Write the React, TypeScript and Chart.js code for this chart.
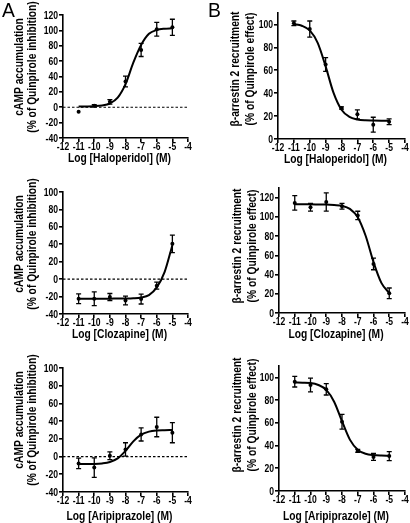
import React, { useEffect, useRef } from "react";
import { Chart, registerables } from "chart.js";
Chart.register(...registerables);

// ---------- data ----------
const DOSE_X = [-11, -10, -9, -8, -7, -6, -5];
const CURVE_X = [-11, -10.5, -10, -9.5, -9, -8.5, -8, -7.5, -7, -6.5, -6, -5.5, -5];
const X_TICKS = [-12, -11, -10, -9, -8, -7, -6, -5, -4];
const CAMP_TICKS_120 = [-40, -20, 0, 20, 40, 60, 80, 100, 120];
const CAMP_TICKS_100 = [-40, -20, 0, 20, 40, 60, 80, 100];
const ARR_TICKS_100 = [0, 20, 40, 60, 80, 100];
const ARR_TICKS_120 = [0, 20, 40, 60, 80, 100, 120];

const HAL_CAMP_MEAN = [-6, 2, 7, 33.5, 74.5, 101.5, 104];
const HAL_CAMP_SEM = [0, 1.5, 3, 7, 8.5, 9, 10.5];
const HAL_CAMP_FIT = [1.0, 1.1, 1.4, 2.3, 4.9, 12.4, 30, 58, 81, 95.5, 100.5, 102.2, 102.7];

const HAL_ARR_MEAN = [101, 96, 65, 27, 21.5, 12.5, 15];
const HAL_ARR_SEM = [2, 7, 6, 1, 4, 6.5, 2.5];
const HAL_ARR_FIT = [100.3, 98.9, 94.8, 83.9, 63.4, 40.2, 25.5, 19.3, 17.1, 16.3, 16.1, 16.0, 16.0];

const CLZ_CAMP_MEAN = [-22.5, -22.5, -20.5, -24.5, -22.8, -7.5, 40.5];
const CLZ_CAMP_SEM = [5.5, 8, 4, 5, 5.7, 4, 10];
const CLZ_CAMP_FIT = [-22.5, -22.5, -22.5, -22.5, -22.4, -22.3, -22.2, -21.9, -21.0, -18.3, -9.5, 8, 39];

const CLZ_ARR_MEAN = [114.5, 110, 115.5, 111, 101.5, 51, 20.5];
const CLZ_ARR_SEM = [7.6, 4, 9.5, 3, 4.3, 6, 5.5];
const CLZ_ARR_FIT = [113, 113, 113, 112.9, 112.8, 112.3, 111.5, 108.3, 99.6, 80.3, 52.9, 31.3, 20.8];

const ARI_CAMP_MEAN = [-7.7, -12.4, 1, 8, 25, 33.4, 27];
const ARI_CAMP_SEM = [6, 11, 4.4, 7.6, 7.4, 11, 11.4];
const ARI_CAMP_FIT = [-8.5, -8.4, -8.3, -7.75, -6.2, -2.1, 6.4, 17.1, 24.7, 28.2, 29.5, 29.8, 30];

const ARI_ARR_MEAN = [96.2, 93.3, 89.5, 61, 35.4, 30, 30.7];
const ARI_ARR_SEM = [4.7, 6, 5, 6.5, 1.3, 3, 4];
const ARI_ARR_FIT = [95.4, 95.3, 95, 93.3, 89, 78.6, 61.4, 45.2, 36.3, 32.8, 31.6, 31.2, 31.1];

const CAMP_TITLE = ["cAMP accumulation", "(% of Quinpirole inhibition)"];
const ARR_TITLE = ["\u03b2-arrestin 2 recruitment", "(% of Quinpirole effect)"];

// ---------- layout ----------
const FONT = '"Liberation Sans", Arial, Helvetica, sans-serif';

type Spec = {
  canvas: { left: number; top: number; width: number; height: number };
  area: { L: number; R: number; T: number; B: number };
  yMin: number; yMax: number; yTicks: number[];
  mean: number[]; sem: number[]; fit: number[];
  zero: boolean;
  yTitle: string[]; yTitleX: number[]; yTitleY: number;
  xTitle: string; xTitleY: number;
  letter?: string; letterX?: number;
};

const PANELS: Spec[] = [
  {
    canvas: { left: 0, top: 0, width: 205, height: 172 }, area: { L: 63, R: 188, T: 15, B: 138 },
    yMin: -40, yMax: 120, yTicks: CAMP_TICKS_120, mean: HAL_CAMP_MEAN, sem: HAL_CAMP_SEM, fit: HAL_CAMP_FIT,
    zero: true, yTitle: CAMP_TITLE, yTitleX: [19.5, 33], yTitleY: 67,
    xTitle: "Log [Haloperidol] (M)", xTitleY: 159, letter: "A", letterX: 2,
  },
  {
    canvas: { left: 205, top: 0, width: 205, height: 172 }, area: { L: 278, R: 405, T: 13, B: 139 },
    yMin: 0, yMax: 110, yTicks: ARR_TICKS_100, mean: HAL_ARR_MEAN, sem: HAL_ARR_SEM, fit: HAL_ARR_FIT,
    zero: false, yTitle: ARR_TITLE, yTitleX: [236, 250.5], yTitleY: 69,
    xTitle: "Log [Haloperidol] (M)", xTitleY: 159.5, letter: "B", letterX: 208,
  },
  {
    canvas: { left: 0, top: 172, width: 205, height: 173 }, area: { L: 63, R: 188, T: 192, B: 314 },
    yMin: -40, yMax: 100, yTicks: CAMP_TICKS_100, mean: CLZ_CAMP_MEAN, sem: CLZ_CAMP_SEM, fit: CLZ_CAMP_FIT,
    zero: true, yTitle: CAMP_TITLE, yTitleX: [19.5, 33], yTitleY: 244,
    xTitle: "Log [Clozapine] (M)", xTitleY: 334.5,
  },
  {
    canvas: { left: 205, top: 172, width: 205, height: 173 }, area: { L: 279, R: 405, T: 188, B: 313 },
    yMin: 0, yMax: 130, yTicks: ARR_TICKS_120, mean: CLZ_ARR_MEAN, sem: CLZ_ARR_SEM, fit: CLZ_ARR_FIT,
    zero: false, yTitle: ARR_TITLE, yTitleX: [238, 252.5], yTitleY: 246,
    xTitle: "Log [Clozapine] (M)", xTitleY: 334.5,
  },
  {
    canvas: { left: 0, top: 345, width: 205, height: 178 }, area: { L: 63, R: 188, T: 368, B: 492 },
    yMin: -40, yMax: 100, yTicks: CAMP_TICKS_100, mean: ARI_CAMP_MEAN, sem: ARI_CAMP_SEM, fit: ARI_CAMP_FIT,
    zero: true, yTitle: CAMP_TITLE, yTitleX: [19.5, 33], yTitleY: 420,
    xTitle: "Log [Aripiprazole] (M)", xTitleY: 517,
  },
  {
    canvas: { left: 205, top: 345, width: 205, height: 178 }, area: { L: 279, R: 405, T: 366, B: 491 },
    yMin: 0, yMax: 110, yTicks: ARR_TICKS_100, mean: ARI_ARR_MEAN, sem: ARI_ARR_SEM, fit: ARI_ARR_FIT,
    zero: false, yTitle: ARR_TITLE, yTitleX: [238, 252.5], yTitleY: 415,
    xTitle: "Log [Aripiprazole] (M)", xTitleY: 517,
  },
];

const YW = 30;
const XH = 20;
const SQUEEZE = 0.82;
const TICK_SQUEEZE = 0.78;

function Panel({ spec }: { spec: Spec }) {
  const ref = useRef<HTMLCanvasElement>(null);
  const c = spec.canvas;
  useEffect(() => {
    const cv = ref.current!;
    const a = spec.area;
    const pad = {
      left: a.L - c.left - YW,
      right: c.left + c.width - a.R,
      top: a.T - c.top,
      bottom: c.top + c.height - a.B - XH,
    };
    const datasets: any[] = [
      {
        label: "mean",
        data: DOSE_X.map((x, i) => ({ x, y: spec.mean[i] })),
        showLine: false,
        pointStyle: "circle",
        pointRadius: 2,
        pointBackgroundColor: "#000",
        pointBorderColor: "#000",
        pointBorderWidth: 0,
      },
      {
        label: "fit",
        data: CURVE_X.map((x, i) => ({ x, y: spec.fit[i] })),
        showLine: true,
        borderColor: "#000",
        borderWidth: 2,
        pointRadius: 0,
        cubicInterpolationMode: "monotone",
        fill: false,
      },
    ];
    if (spec.zero) {
      datasets.push({
        label: "zero",
        data: [{ x: X_TICKS[0], y: 0 }, { x: X_TICKS[X_TICKS.length - 1], y: 0 }],
        showLine: true,
        borderColor: "#000",
        borderWidth: 1.2,
        borderDash: [2.5, 2],
        pointRadius: 0,
        fill: false,
      });
    }
    const errorBars = {
      id: "errorBars",
      afterDatasetsDraw(chart: any) {
        const { ctx, scales } = chart;
        const xs = scales.x, ys = scales.y;
        ctx.save();
        ctx.strokeStyle = "#000";
        ctx.lineWidth = 1.3;
        spec.mean.forEach((m, i) => {
          const e = spec.sem[i];
          if (!e) return;
          const px = xs.getPixelForValue(DOSE_X[i]);
          const y1 = ys.getPixelForValue(m + e);
          const y2 = ys.getPixelForValue(m - e);
          ctx.beginPath();
          ctx.moveTo(px, y1); ctx.lineTo(px, y2);
          ctx.moveTo(px - 2.5, y1); ctx.lineTo(px + 2.5, y1);
          ctx.moveTo(px - 2.5, y2); ctx.lineTo(px + 2.5, y2);
          ctx.stroke();
        });
        ctx.restore();
      },
    };
    const labels = {
      id: "labels",
      afterDraw(chart: any) {
        const { ctx, scales } = chart;
        const xs = scales.x, ys = scales.y;
        ctx.save();
        ctx.fillStyle = "#000";
        // tick labels
        ctx.font = `bold 11px ${FONT}`;
        ctx.textBaseline = "middle";
        ctx.textAlign = "center";
        xs.ticks.forEach((t: any) => {
          const px = xs.getPixelForValue(t.value);
          ctx.save();
          ctx.translate(px, chart.chartArea.bottom + 8.5);
          ctx.scale(TICK_SQUEEZE, 1);
          ctx.fillText(String(t.value), 0, 0);
          ctx.restore();
        });
        ctx.textAlign = "right";
        ys.ticks.forEach((t: any) => {
          const py = ys.getPixelForValue(t.value);
          ctx.save();
          ctx.translate(chart.chartArea.left - 5, py + 0.5);
          ctx.scale(TICK_SQUEEZE, 1);
          ctx.fillText(String(t.value), 0, 0);
          ctx.restore();
        });
        // axis titles
        ctx.textAlign = "center";
        ctx.font = `bold 12.5px ${FONT}`;
        spec.yTitle.forEach((t, i) => {
          ctx.save();
          ctx.translate(spec.yTitleX[i] - c.left, spec.yTitleY - c.top);
          ctx.rotate(-Math.PI / 2);
          ctx.scale(SQUEEZE, 1);
          ctx.fillText(t, 0, 0);
          ctx.restore();
        });
        ctx.save();
        ctx.translate((a.L + a.R) / 2 - 6 - c.left, spec.xTitleY - c.top);
        ctx.scale(SQUEEZE, 1);
        ctx.fillText(spec.xTitle, 0, 0);
        ctx.restore();
        if (spec.letter) {
          ctx.save();
          ctx.textAlign = "left";
          ctx.textBaseline = "alphabetic";
          ctx.font = `21px ${FONT}`;
          ctx.translate((spec.letterX || 0) - c.left, 17 - c.top);
          ctx.scale(0.92, 1);
          ctx.fillText(spec.letter, 0, 0);
          ctx.restore();
        }
        ctx.restore();
      },
    };
    const gridOpts = { display: true, drawOnChartArea: false, drawTicks: true, tickLength: 4, color: "#000", lineWidth: 1.6 };
    const chart = new Chart(cv, {
      type: "scatter",
      data: { datasets },
      options: {
        responsive: false,
        animation: false,
        devicePixelRatio: 1,
        layout: { padding: pad },
        plugins: { legend: { display: false }, tooltip: { enabled: false } },
        scales: {
          x: {
            type: "linear",
            min: X_TICKS[0],
            max: X_TICKS[X_TICKS.length - 1],
            afterBuildTicks: (s: any) => { s.ticks = X_TICKS.map((v) => ({ value: v })); },
            afterFit: (s: any) => { s.height = XH; },
            grid: gridOpts,
            border: { display: true, color: "#000", width: 1.6 },
            ticks: { display: false, autoSkip: false },
          },
          y: {
            type: "linear",
            min: spec.yMin,
            max: spec.yMax,
            afterBuildTicks: (s: any) => { s.ticks = spec.yTicks.map((v) => ({ value: v })); },
            afterFit: (s: any) => { s.width = YW; },
            grid: gridOpts,
            border: { display: true, color: "#000", width: 1.6 },
            ticks: { display: false, autoSkip: false },
          },
        },
      } as any,
      plugins: [errorBars, labels],
    });
    return () => chart.destroy();
  }, []);
  return (
    <canvas
      ref={ref}
      width={c.width}
      height={c.height}
      style={{ position: "absolute", left: c.left, top: c.top, width: c.width, height: c.height }}
    />
  );
}

export default function App() {
  return (
    <div style={{ position: "absolute", left: 0, top: 0, width: 410, height: 523, overflow: "hidden", background: "#fff" }}>
      {PANELS.map((p, i) => (
        <Panel key={i} spec={p} />
      ))}
    </div>
  );
}
